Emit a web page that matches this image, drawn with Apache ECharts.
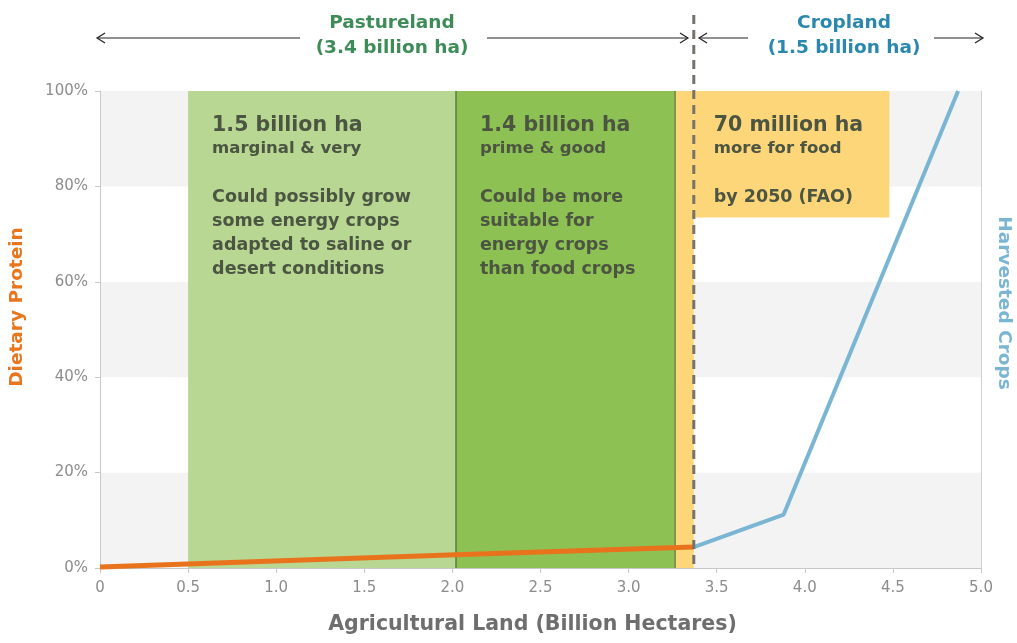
<!DOCTYPE html>
<html>
<head>
<meta charset="utf-8">
<script src="https://cdn.jsdelivr.net/npm/echarts@6/dist/echarts.min.js"></script>
<style>
  html, body { margin: 0; padding: 0; background: #fff; }
  #chart { width: 1017px; height: 643px; }
</style>
</head>
<body>
<div id="chart"></div>
<script>
// data
const xTicks = [0, 0.5, 1.0, 1.5, 2.0, 2.5, 3.0, 3.5, 4.0, 4.5, 5.0];
const proteinLine = [[0, 0.2], [2.02, 2.8], [3.37, 4.4]];
const cropsLine = [[3.37, 4.4], [3.88, 11.2], [4.87, 100]];
// land regions, billion ha on x, percent on y
const marginalBand = [0.5, 2.02];
const primeBand = [2.02, 3.26];
const extraStrip = [3.26, 3.37];
const foodBox = [3.37, 4.48, 73.5];
const pastureCropSplit = 3.37;

const FONT = '"DejaVu Sans", "Open Sans", sans-serif';
const boxText = '#4b5541';

const chart = echarts.init(document.getElementById('chart'));

function boxLabel(lines) {
  return {
    show: true,
    position: 'insideTopLeft',
    distance: 0,
    padding: [23, 0, 0, 24],
    fontFamily: FONT,
    formatter: lines.join('\n'),
    rich: {
      h: { fontSize: 20.5, fontWeight: 'bold', color: boxText, fontFamily: FONT, lineHeight: 24 },
      s: { fontSize: 16.5, fontWeight: 'bold', color: boxText, fontFamily: FONT, lineHeight: 22 },
      g: { fontSize: 10, lineHeight: 25 },
      b: { fontSize: 17.5, fontWeight: 'bold', color: boxText, fontFamily: FONT, lineHeight: 24 }
    }
  };
}

chart.setOption({
  animation: false,
  grid: { left: 100, right: 36, top: 91, bottom: 75, outerBoundsMode: 'none', containLabel: false },
  xAxis: {
    type: 'value',
    min: 0, max: 5, interval: 0.5,
    name: 'Agricultural Land (Billion Hectares)',
    nameLocation: 'middle',
    nameGap: 46,
    nameTextStyle: { color: '#6e6e6e', fontSize: 20.5, fontWeight: 'bold', fontFamily: FONT, padding: [0, 16, 0, 0] },
    axisLine: { show: true, lineStyle: { color: '#c8c8c8', width: 1 } },
    axisTick: { show: true, length: 5, lineStyle: { color: '#c8c8c8' } },
    axisLabel: {
      color: '#8c8c8c', fontSize: 15, fontFamily: FONT, margin: 13,
      formatter: v => v === 0 ? '0' : v.toFixed(1)
    },
    splitLine: { show: false }
  },
  yAxis: [{
    type: 'value',
    min: 0, max: 100, interval: 20,
    axisLine: { show: true, lineStyle: { color: '#c8c8c8', width: 1 } },
    axisTick: { show: true, length: 5, lineStyle: { color: '#c8c8c8' } },
    axisLabel: { color: '#8c8c8c', fontSize: 15, fontFamily: FONT, margin: 12, formatter: '{value}%' },
    splitLine: { show: false },
    splitArea: { show: true, areaStyle: { color: ['#f3f3f3', '#ffffff'] } }
  }, {
    type: 'value',
    min: 0, max: 100, interval: 20,
    position: 'right',
    axisLine: { show: true, lineStyle: { color: '#d0d0d0', width: 1 } },
    axisTick: { show: false },
    axisLabel: { show: false },
    splitLine: { show: false }
  }],
  series: [{
    type: 'line',
    data: [],
    z: 1,
    silent: true,
    markLine: {
      silent: true,
      symbol: 'none',
      label: { show: false },
      lineStyle: { color: '#5e7d3c', width: 1.5, type: 'solid' },
      data: [{ xAxis: primeBand[0] }, { xAxis: primeBand[1] }]
    },
    markArea: {
      silent: true,
      data: [
        [{ coord: [marginalBand[0], 100], itemStyle: { color: '#b7d792' },
           label: boxLabel(['{h|1.5 billion ha}', '{s|marginal & very}', '{g| }',
             '{b|Could possibly grow}', '{b|some energy crops}', '{b|adapted to saline or}', '{b|desert conditions}']) },
         { coord: [marginalBand[1], 0] }],
        [{ coord: [primeBand[0], 100], itemStyle: { color: '#8dc153' },
           label: boxLabel(['{h|1.4 billion ha}', '{s|prime & good}', '{g| }',
             '{b|Could be more}', '{b|suitable for}', '{b|energy crops}', '{b|than food crops}']) },
         { coord: [primeBand[1], 0] }],
        [{ coord: [extraStrip[0], 100], itemStyle: { color: '#fdd67a' }, label: { show: false } },
         { coord: [extraStrip[1], 0] }],
        [{ coord: [foodBox[0], 100], itemStyle: { color: '#fdd67a' },
           label: Object.assign(boxLabel(['{h|70 million ha}', '{s|more for food}', '{g| }',
             '{b|by 2050 (FAO)}']), { padding: [23, 0, 0, 20] }) },
         { coord: [foodBox[1], foodBox[2]] }]
      ]
    }
  }, {
    name: 'Dietary Protein',
    type: 'line',
    data: proteinLine,
    z: 5,
    symbol: 'none',
    lineStyle: { color: '#e8731c', width: 5 }
  }, {
    name: 'Harvested Crops',
    type: 'line',
    data: cropsLine,
    z: 5,
    symbol: 'none',
    lineStyle: { color: '#7ab6d4', width: 4 }
  }]
});

// divider and top annotations
const splitPx = chart.convertToPixel({ xAxisIndex: 0 }, pastureCropSplit);
const bottomPx = chart.convertToPixel({ yAxisIndex: 0 }, 0);

function arrow(x1, x2, y, head) {
  // head: 'left' or 'right'
  const hx = head === 'left' ? x1 : x2;
  const d = head === 'left' ? 8 : -8;
  return [
    { type: 'line', shape: { x1: x1, y1: y, x2: x2, y2: y }, style: { stroke: '#222', lineWidth: 1.2 } },
    { type: 'polyline', shape: { points: [[hx + d, y - 5], [hx, y], [hx + d, y + 5]] },
      style: { stroke: '#222', lineWidth: 1.2, fill: null } }
  ];
}

const topText = (x, y, text, color) => ({
  type: 'text', x: x, y: y,
  style: { text: text, fill: color, font: 'bold 18.5px ' + FONT, align: 'center', verticalAlign: 'middle' }
});

const sideName = (x, y, rot, text, color) => ({
  type: 'text', x: x, y: y, rotation: rot,
  style: { text: text, fill: color, font: 'bold 18.5px ' + FONT, align: 'center', verticalAlign: 'middle' }
});

chart.setOption({
  graphic: [
    { type: 'line', z: 10,
      shape: { x1: splitPx, y1: 15, x2: splitPx, y2: bottomPx },
      style: { stroke: '#77736b', lineWidth: 3, lineDash: [9, 6] } },
    ...arrow(97, 300, 38, 'left'),
    ...arrow(487, 688, 38, 'right'),
    ...arrow(699, 748, 38, 'left'),
    ...arrow(934, 983, 38, 'right'),
    topText(392, 23, 'Pastureland', '#3d8c57'),
    topText(392, 48, '(3.4 billion ha)', '#3d8c57'),
    topText(844, 23, 'Cropland', '#2a87ad'),
    topText(844, 48, '(1.5 billion ha)', '#2a87ad'),
    sideName(17, 307, Math.PI / 2, 'Dietary Protein', '#e8761f'),
    sideName(1004, 303, -Math.PI / 2, 'Harvested Crops', '#7ab6d4')
  ]
});
</script>
</body>
</html>
